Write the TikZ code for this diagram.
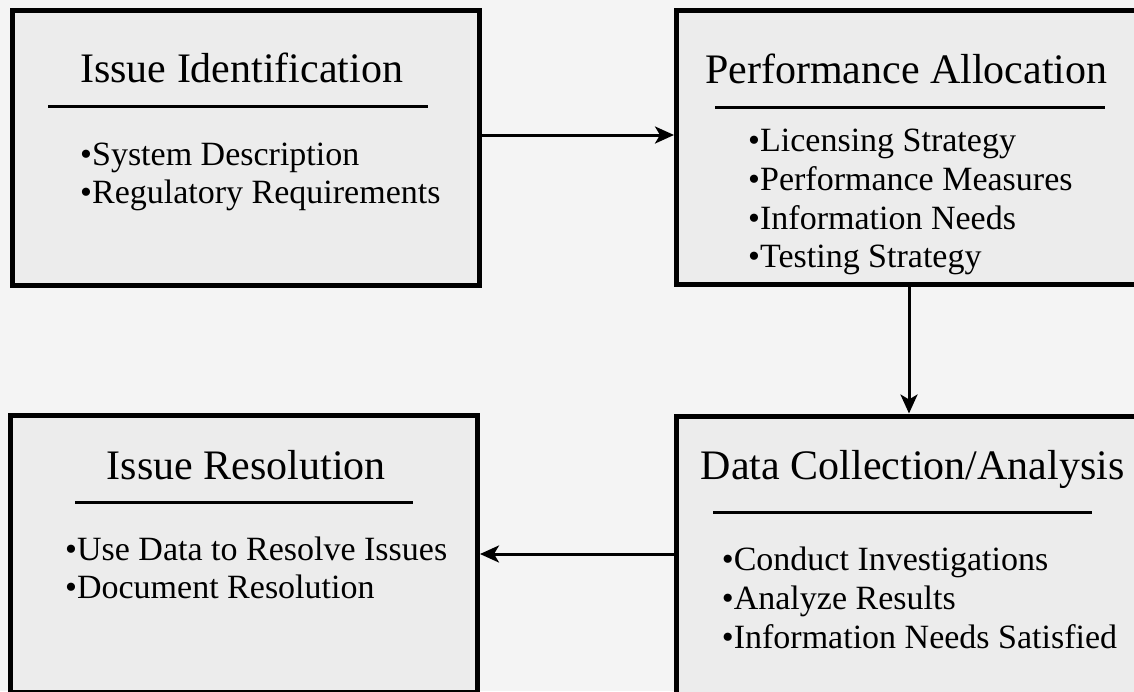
\documentclass[tikz,border=0pt]{standalone}
\usepackage{fontspec}
\setmainfont{Liberation Serif}
\usetikzlibrary{arrows.meta}
\definecolor{bg}{HTML}{F4F4F4}
\definecolor{boxfill}{HTML}{ECECEC}
\begin{document}
\begin{tikzpicture}[x=1pt,y=-1pt,
  panel/.style={draw=black, line width=5pt, fill=boxfill, rectangle, inner sep=0pt},
  title/.style={anchor=base west, inner sep=0pt, font=\fontsize{42}{48}\selectfont},
  item/.style={anchor=base west, inner sep=0pt, font=\fontsize{34}{38}\selectfont},
  rulestyle/.style={line width=2.2pt},
  arr/.style={line width=3pt, -{Stealth[length=19pt,width=17pt,inset=5pt]}}]
\useasboundingbox[fill=bg] (0,0) rectangle (1134,691);

% panels
\node[panel, minimum width=467.5pt, minimum height=275.5pt] (box1) at (245.75,147.75) {};
\node[panel, minimum width=473.5pt, minimum height=274.5pt] (box2) at (913.25,147.25) {};
\node[panel, minimum width=467pt, minimum height=277pt] (box3) at (244,553.5) {};
\node[panel, minimum width=474pt, minimum height=289pt] (box4) at (913,560.5) {};

% box 1
\node[title] (t1) at (80,82.7) {Issue Identification};
\draw[rulestyle] (48,106.5) -- (428,106.5);
\node[item] (i11) at (80,165) {•System Description};
\node[item] (i12) at (80,203.3) {•Regulatory Requirements};

% box 2
\node[title] (t2) at (705,83) {Performance Allocation};
\draw[rulestyle] (715,107.5) -- (1105,107.5);
\node[item] (i21) at (748,151.7) {•Licensing Strategy};
\node[item] (i22) at (748,190) {•Performance Measures};
\node[item] (i23) at (748,229) {•Information Needs};
\node[item] (i24) at (748,267.7) {•Testing Strategy};

% box 3
\node[title] (t3) at (106.7,479) {Issue Resolution};
\draw[rulestyle] (75,502.5) -- (413,502.5);
\node[item] (i31) at (65,560) {•Use Data to Resolve Issues};
\node[item] (i32) at (65,598.3) {•Document Resolution};

% box 4
\node[title] (t4) at (700.7,479.3) {Data Collection/Analysis};
\draw[rulestyle] (713,512.5) -- (1092,512.5);
\node[item] (i41) at (721.7,570.7) {•Conduct Investigations};
\node[item] (i42) at (721.7,609.3) {•Analyze Results};
\node[item] (i43) at (721.7,648.3) {•Information Needs Satisfied};

% connectors
\draw[arr] ([yshift=12.75pt]box1.east) -- ([yshift=12.25pt]box2.west);
\draw[arr] ([xshift=-4.25pt]box2.south) -- ([xshift=-4pt]box4.north);
\draw[arr] ([yshift=6.5pt]box4.west) -- ([yshift=-0.5pt]box3.east);
\end{tikzpicture}
\end{document}
